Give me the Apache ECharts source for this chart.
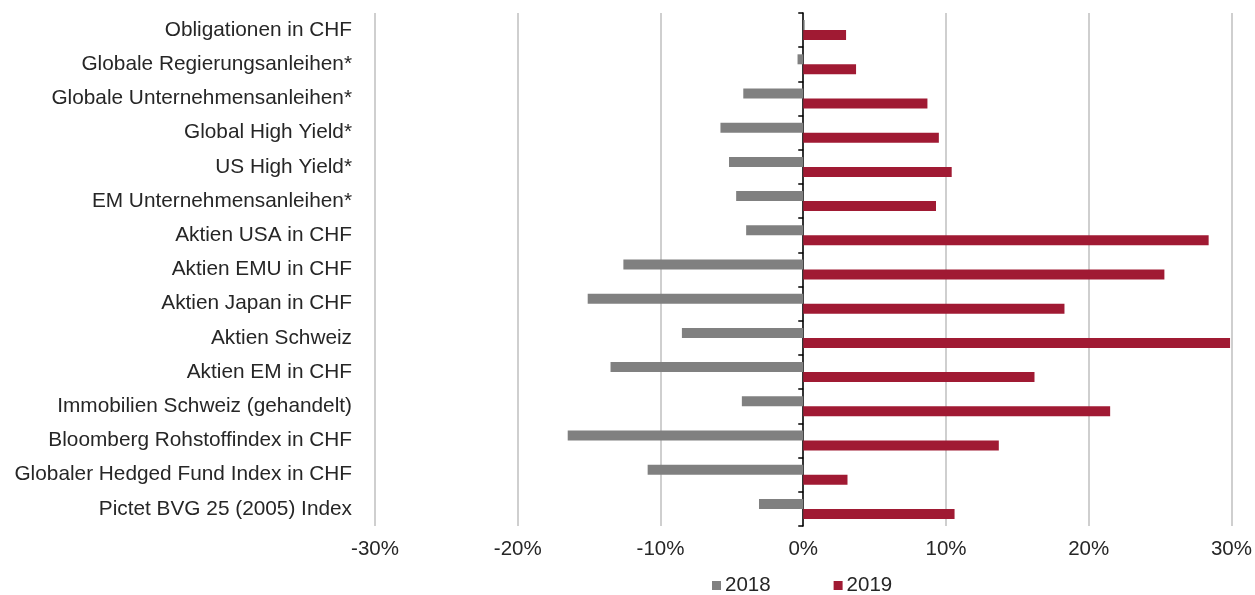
<!DOCTYPE html>
<html>
<head>
<meta charset="utf-8">
<script src="https://cdn.jsdelivr.net/npm/echarts@6/dist/echarts.min.js"></script>
<style>
html,body{margin:0;padding:0;background:#fff;}
#chart{width:1255px;height:595px;}
</style>
</head>
<body>
<div id="chart"></div>
<script>
const categories = [
  "Obligationen in CHF",
  "Globale Regierungsanleihen*",
  "Globale Unternehmensanleihen*",
  "Global High Yield*",
  "US High Yield*",
  "EM Unternehmensanleihen*",
  "Aktien USA in CHF",
  "Aktien EMU in CHF",
  "Aktien Japan in CHF",
  "Aktien Schweiz",
  "Aktien EM in CHF",
  "Immobilien Schweiz (gehandelt)",
  "Bloomberg Rohstoffindex in CHF",
  "Globaler Hedged Fund Index in CHF",
  "Pictet BVG 25 (2005) Index"
];
const values2018 = [0.1, -0.4, -4.2, -5.8, -5.2, -4.7, -4.0, -12.6, -15.1, -8.5, -13.5, -4.3, -16.5, -10.9, -3.1];
const values2019 = [3.0, 3.7, 8.7, 9.5, 10.4, 9.3, 28.4, 25.3, 18.3, 29.9, 16.2, 21.5, 13.7, 3.1, 10.6];
const xTicks = [-30, -20, -10, 0, 10, 20, 30];
const seriesNames = ["2018", "2019"];

const chart = echarts.init(document.getElementById('chart'), null, {renderer: 'canvas'});
const font = "'Liberation Sans', Arial, sans-serif";
chart.setOption({
  animation: false,
  backgroundColor: '#ffffff',
  grid: {left: 375, right: 23, top: 13, bottom: 69, containLabel: false},
  legend: {
    top: 570,
    left: 707,
    itemWidth: 9,
    itemHeight: 9,
    itemGap: 63,
    icon: 'rect',
    textStyle: {fontFamily: font, fontSize: 20.5, color: '#262626', padding: [0, 0, 0, -1]},
    data: seriesNames
  },
  xAxis: {
    type: 'value',
    min: xTicks[0],
    max: xTicks[xTicks.length - 1],
    interval: 10,
    axisLine: {show: false},
    axisTick: {show: false},
    splitLine: {show: true, lineStyle: {color: '#bfbfbf', width: 1.5}},
    axisLabel: {
      fontFamily: font, fontSize: 20.5, color: '#262626', margin: 13,
      formatter: v => v + '%'
    }
  },
  yAxis: {
    type: 'category',
    data: categories,
    inverse: true,
    axisLine: {show: true, onZero: true, lineStyle: {color: '#000000', width: 1.5}},
    axisTick: {show: true, length: 5, lineStyle: {color: '#000000', width: 1.5}},
    axisLabel: {fontFamily: font, fontSize: 20.8, color: '#262626', margin: 23},
    splitLine: {show: false}
  },
  series: [
    {
      name: seriesNames[0], type: 'bar', data: values2018,
      barWidth: 10, barGap: '0%',
      itemStyle: {color: '#808080'}
    },
    {
      name: seriesNames[1], type: 'bar', data: values2019,
      barWidth: 10, barGap: '0%',
      itemStyle: {color: '#a01a33'}
    }
  ]
});
</script>
</body>
</html>
